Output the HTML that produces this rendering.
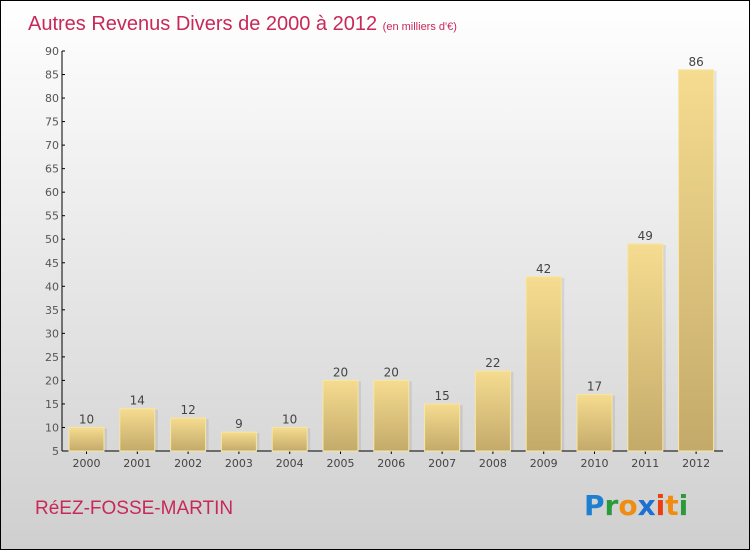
<!DOCTYPE html>
<html><head><meta charset="utf-8"><style>
body{margin:0}
#c{position:relative;width:748px;height:548px;border:1px solid #000;background:linear-gradient(#ffffff,#cfcfcf);overflow:hidden;font-family:"DejaVu Sans","Liberation Sans",sans-serif}
</style></head><body>
<div id="c">
<svg width="748" height="548" style="position:absolute;left:0;top:0">
<defs>
<linearGradient id="bg" x1="0" y1="0" x2="0" y2="1"><stop offset="0" stop-color="#f5dc90"/><stop offset="1" stop-color="#c4aa6a"/></linearGradient>
</defs>
<text x="27" y="29" font-size="20" fill="#c8285a" font-family="Liberation Sans, sans-serif">Autres Revenus Divers de 2000 à 2012 <tspan font-size="11">(en milliers d'€)</tspan></text>
<g id="axes"></g>
<g id="bars"></g>
<text x="34" y="513" font-size="19" fill="#c8285a" font-family="Liberation Sans, sans-serif">RéEZ-FOSSE-MARTIN</text>
<g font-size="28" font-weight="bold" font-family="DejaVu Sans, sans-serif">
<text x="583" y="514"><tspan fill="#1e7fd0">P</tspan><tspan fill="#2a9a3a">r</tspan><tspan fill="#f08c10">o</tspan><tspan fill="#1e6fd0">x</tspan><tspan fill="#e84010">i</tspan><tspan fill="#f08c10">t</tspan><tspan fill="#2a9a3a">i</tspan></text>
</g>
</svg>
</div>
<script>
const years=["2000","2001","2002","2003","2004","2005","2006","2007","2008","2009","2010","2011","2012"];
const values=[10,14,12,9,10,20,20,15,22,42,17,49,86];
const yTicks=[5,10,15,20,25,30,35,40,45,50,55,60,65,70,75,80,85,90];
const NS="http://www.w3.org/2000/svg";
const yMin=5,yMax=90,yTop=50,yBot=450,x0=61,xStart=85.5,step=50.8,bw=35;
function y(v){return yBot-(v-yMin)/(yMax-yMin)*(yBot-yTop);}
function x(i){return xStart+i*step;}
function mk(t,a,p){const e=document.createElementNS(NS,t);for(const k in a)e.setAttribute(k,a[k]);p.appendChild(e);return e;}
const ax=document.getElementById('axes'),bs=document.getElementById('bars');
const yl=mk('line',{x1:x0,y1:yTop,x2:x0,y2:yBot,stroke:'#000'},ax);


const xl=mk('line',{x1:x0,y1:yBot,x2:722,y2:yBot,stroke:'#000'},ax);


yTicks.forEach(t=>{
 mk('line',{x1:x0,y1:y(t),x2:x0+3,y2:y(t),stroke:'#000'},ax);
 const tx=mk('text',{x:x0-3,y:y(t)+4,'text-anchor':'end','font-size':11,fill:'#555'},ax);
 tx.textContent=t;
 
 
});
years.forEach((yr,i)=>{
 const v=values[i];
 mk('rect',{x:x(i)-bw/2+3,y:y(v)+1,width:bw,height:yBot-y(v)-1,fill:'#000',opacity:0.08},bs);
 const r=mk('rect',{x:x(i)-bw/2,y:y(v),width:bw,height:yBot-y(v),fill:'url(#bg)',stroke:'#f8e6a0','stroke-width':1},bs);
 
 
 const vl=mk('text',{x:x(i),y:y(v)-4,'text-anchor':'middle','font-size':12,fill:'#444'},bs);
 vl.textContent=v;
 
 
 mk('line',{x1:x(i),y1:yBot,x2:x(i),y2:yBot+3,stroke:'#000'},ax);
 const xt=mk('text',{x:x(i),y:yBot+16,'text-anchor':'middle','font-size':11,fill:'#444'},ax);
 xt.textContent=yr;
 
 
});
</script>
</body></html>
